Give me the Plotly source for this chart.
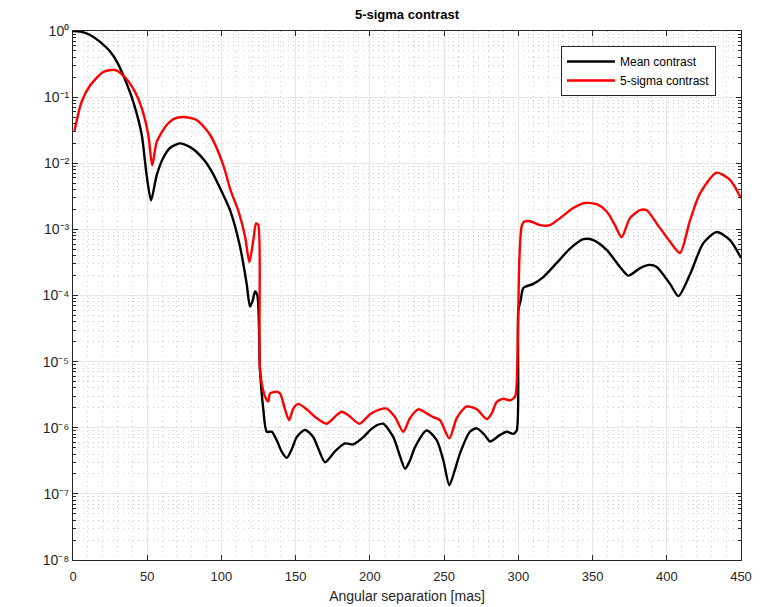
import plotly.graph_objects as go

# Angular separation samples [mas] and contrast for the mean curve
sep_mean = [0, 5, 11.5, 18, 25, 30, 34, 40.6, 46.3, 49.6, 52.6, 56.4, 60.5, 65.3, 72,
            78, 83.3, 89, 94.5, 100, 105.8, 112.5, 117, 119.2, 121, 122.6, 124.2, 126,
            128.2, 130.5, 133.9, 137.2, 140.5, 144, 147.5, 150.7, 156.3, 161.9, 166,
            169.8, 176.5, 183.2, 188.8, 195.6, 200, 205, 209, 215.8, 219.8, 223.7, 227,
            230.4, 238.3, 245, 249.5, 253.5, 257, 260.7, 267.4, 272, 277, 281, 287.7,
            292.2, 296.6, 298.9, 300, 301.6, 303.4, 310.1, 316.8, 325.8, 334.8, 343.8,
            350.5, 359.5, 368.5, 374.1, 382, 388.7, 393.2, 402.2, 407.8, 415.7, 424.6,
            433.6, 442.6, 450]
mean_contrast = [1.0, 0.98, 0.87, 0.69, 0.49, 0.33, 0.21, 0.085, 0.027, 6.6e-3, 2.75e-3,
                 6.6e-3, 0.0117, 0.017, 0.020, 0.018, 0.0148, 0.0107, 6.8e-3, 3.8e-3,
                 1.95e-3, 5.5e-4, 1.5e-4, 6.8e-5, 8.3e-5, 1.15e-4, 1.0e-4, 7.4e-6, 1.9e-6,
                 8.7e-7, 8.7e-7, 6.5e-7, 4.4e-7, 3.5e-7, 4.8e-7, 7.2e-7, 9.3e-7, 7.2e-7,
                 4.4e-7, 3.0e-7, 4.4e-7, 5.8e-7, 5.6e-7, 7.2e-7, 9.1e-7, 1.1e-6, 1.15e-6,
                 7.2e-7, 4.0e-7, 2.4e-7, 3.2e-7, 5.1e-7, 9.1e-7, 6.5e-7, 3.2e-7, 1.35e-7,
                 2.2e-7, 4.1e-7, 8.7e-7, 9.8e-7, 7.9e-7, 6.2e-7, 7.8e-7, 8.7e-7, 8.1e-7,
                 9.1e-7, 6.0e-5, 8.5e-5, 1.3e-4, 1.5e-4, 1.9e-4, 3.1e-4, 5.1e-4, 7.1e-4,
                 6.9e-4, 4.9e-4, 2.7e-4, 2.0e-4, 2.6e-4, 2.9e-4, 2.7e-4, 1.5e-4, 9.8e-5,
                 2.1e-4, 6.2e-4, 9.1e-4, 6.9e-4, 3.7e-4]

# Angular separation samples [mas] and contrast for the 5-sigma curve
sep_5sigma = [1, 5.8, 11.5, 20.4, 28.3, 35, 41.8, 46.3, 50.7, 53.4, 56.4, 63.1, 68, 74.3,
              83.3, 92.3, 101.3, 106, 111.4, 115.9, 118.8, 121.5, 123.3, 124.8, 126,
              129.3, 131.6, 132.7, 137.2, 139.5, 142.8, 145.5, 148.4, 151.8, 157.4, 164.1,
              170.9, 177.6, 181, 185.5, 192.9, 200.1, 206.8, 211.3, 216.9, 222.5, 227,
              232.6, 238.3, 242.7, 247.2, 253.5, 258.5, 265.2, 272, 278.7, 282.1, 285.4,
              289.9, 294.4, 297.8, 298.9, 300.7, 302.2, 303.8, 307.9, 314.6, 321.3, 328.1,
              337, 344.9, 352.8, 359.5, 365.1, 369.6, 375.2, 382, 386.5, 393.2, 402.2,
              408.9, 415.7, 422.4, 433.6, 442.6, 450]
sigma5_contrast = [0.031, 0.085, 0.15, 0.24, 0.257, 0.20, 0.12, 0.068, 0.027, 9.3e-3,
                   0.021, 0.038, 0.047, 0.050, 0.045, 0.027, 9.3e-3, 4.0e-3, 1.9e-3,
                   7.8e-4, 3.2e-4, 6.9e-4, 1.23e-3, 1.17e-3, 7.4e-6, 3.0e-6, 2.5e-6,
                   3.3e-6, 3.5e-6, 3.3e-6, 1.9e-6, 1.3e-6, 1.95e-6, 2.3e-6, 1.9e-6, 1.4e-6,
                   1.15e-6, 1.55e-6, 1.75e-6, 1.55e-6, 1.15e-6, 1.6e-6, 1.9e-6, 1.95e-6,
                   1.45e-6, 8.7e-7, 1.4e-6, 1.9e-6, 1.65e-6, 1.45e-6, 1.3e-6, 6.9e-7,
                   1.4e-6, 2.1e-6, 1.9e-6, 1.35e-6, 1.65e-6, 2.45e-6, 2.75e-6, 2.6e-6,
                   2.95e-6, 4.7e-6, 3.5e-4, 1.1e-3, 1.3e-3, 1.33e-3, 1.16e-3, 1.16e-3,
                   1.48e-3, 2.1e-3, 2.5e-3, 2.4e-3, 1.86e-3, 1.16e-3, 7.6e-4, 1.48e-3,
                   1.95e-3, 1.95e-3, 1.23e-3, 6.5e-4, 4.4e-4, 1.38e-3, 3.5e-3, 7.2e-3,
                   5.6e-3, 2.95e-3]

x_ticks = [0, 50, 100, 150, 200, 250, 300, 350, 400, 450]
y_exponents = [0, -1, -2, -3, -4, -5, -6, -7, -8]

AXIS = "#262626"
FONT = "Liberation Sans, Arial, Helvetica, sans-serif"
MAJOR_GRID = "#e6e6e6"
MINOR_GRID = "#cfcfcf"
MINOR_DASH = "1px,4px"

SUPERSCRIPT = str.maketrans("-0123456789", "\u207b\u2070\u00b9\u00b2\u00b3\u2074\u2075\u2076\u2077\u2078\u2079")


def decade_label(exp):
    return "10" + str(exp).translate(SUPERSCRIPT)


fig = go.Figure()
fig.add_trace(go.Scatter(x=sep_mean, y=mean_contrast, mode="lines",
                         name="Mean contrast",
                         line=dict(color="black", width=2.4, shape="spline", smoothing=0.7)))
fig.add_trace(go.Scatter(x=sep_5sigma, y=sigma5_contrast, mode="lines",
                         name="5-sigma contrast",
                         line=dict(color="#ff0000", width=2.4, shape="spline", smoothing=0.7)))

minor_y = [m * 10.0 ** e for e in range(-8, 0) for m in range(2, 10)]

fig.update_layout(
    width=766, height=607,
    margin=dict(l=73, r=25, t=31, b=47),
    paper_bgcolor="white", plot_bgcolor="white",
    font=dict(family=FONT, size=13, color=AXIS),
    title=dict(text="<b>5-sigma contrast</b>", x=0.5, xref="paper", xanchor="center",
               y=1 - 14 / 607, yref="container", yanchor="middle",
               font=dict(size=13, color="black", family=FONT)),
    showlegend=True,
    legend=dict(x=(716 - 73) / 668, y=1 - (46 - 31) / 529, xanchor="right", yanchor="top",
                bgcolor="white", bordercolor=AXIS, borderwidth=1,
                font=dict(size=12, color="black", family=FONT),
                tracegroupgap=0, itemwidth=48),
    xaxis=dict(range=[0, 450], tickmode="array", tickvals=x_ticks,
               ticktext=[str(v) for v in x_ticks], automargin=False,
               showline=True, linecolor=AXIS, linewidth=1, mirror="ticks",
               ticks="inside", ticklen=5, tickcolor=AXIS, ticklabelstandoff=4,
               showgrid=True, gridcolor=MAJOR_GRID, gridwidth=1, zeroline=False,
               minor=dict(dtick=10, showgrid=True, gridcolor=MINOR_GRID,
                          griddash=MINOR_DASH, ticks=""),
               title=dict(text="Angular separation [mas]", font=dict(size=14, color=AXIS),
                          standoff=8),
               tickfont=dict(size=13, color=AXIS)),
    yaxis=dict(type="log", range=[-8, 0], tickmode="array",
               tickvals=[10.0 ** e for e in y_exponents],
               ticktext=[decade_label(e) for e in y_exponents], automargin=False,
               showline=True, linecolor=AXIS, linewidth=1, mirror="ticks",
               ticks="inside", ticklen=5, tickcolor=AXIS,
               showgrid=True, gridcolor=MAJOR_GRID, gridwidth=1, zeroline=False,
               minor=dict(tickmode="array", tickvals=minor_y, showgrid=True,
                          gridcolor=MINOR_GRID, griddash=MINOR_DASH,
                          ticks="inside", ticklen=3, tickcolor=AXIS),
               tickfont=dict(size=14, color=AXIS)),
)

fig.write_html("out.html")
